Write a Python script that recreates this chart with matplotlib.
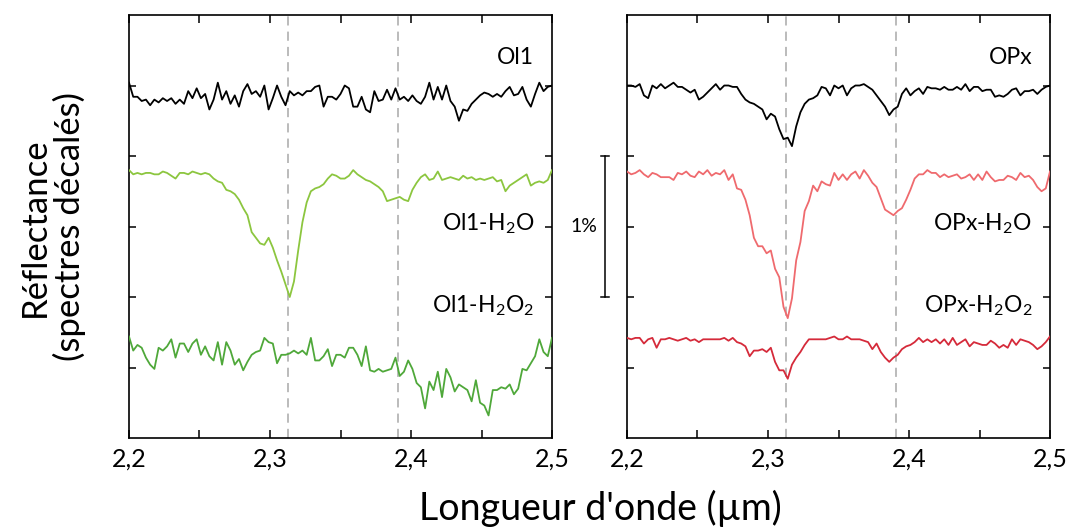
"""Offset reflectance spectra (Ol1 / OPx) around 2.2-2.5 um, two panels."""
import numpy as np
import matplotlib
matplotlib.use("Agg")
import matplotlib.pyplot as plt
from matplotlib.transforms import blended_transform_factory

OUT = "out.png"

# wavelength grid (um), 101 samples between 2.2 and 2.5
WL = np.linspace(2.2, 2.5, 101)

# offset reflectance (%)
OL1 = [2.52, 2.42, 2.42, 2.39, 2.40, 2.36, 2.40, 2.38, 2.41, 2.39,
       2.41, 2.37, 2.40, 2.37, 2.46, 2.41, 2.48, 2.41, 2.44, 2.33,
       2.40, 2.52, 2.40, 2.46, 2.37, 2.43, 2.35, 2.46, 2.51, 2.44,
       2.46, 2.42, 2.50, 2.33, 2.41, 2.50, 2.42, 2.36, 2.46, 2.43,
       2.45, 2.43, 2.46, 2.46, 2.49, 2.50, 2.35, 2.42, 2.42, 2.40,
       2.44, 2.50, 2.48, 2.35, 2.35, 2.42, 2.33, 2.31, 2.46, 2.39,
       2.40, 2.47, 2.40, 2.48, 2.40, 2.42, 2.39, 2.43, 2.39, 2.37,
       2.42, 2.52, 2.40, 2.49, 2.40, 2.50, 2.39, 2.35, 2.25, 2.33,
       2.32, 2.37, 2.40, 2.43, 2.45, 2.44, 2.42, 2.44, 2.42, 2.46,
       2.49, 2.43, 2.44, 2.49, 2.40, 2.35, 2.44, 2.52, 2.46, 2.49,
       2.50]
OL1_H2O = [1.90, 1.87, 1.88, 1.87, 1.88, 1.88, 1.87, 1.87, 1.89, 1.88,
           1.86, 1.84, 1.88, 1.88, 1.87, 1.89, 1.88, 1.87, 1.88, 1.87,
           1.84, 1.82, 1.81, 1.76, 1.75, 1.73, 1.69, 1.63, 1.58, 1.46,
           1.42, 1.38, 1.37, 1.42, 1.35, 1.26, 1.18, 1.09, 1.00, 1.11,
           1.33, 1.53, 1.67, 1.75, 1.77, 1.78, 1.80, 1.84, 1.87, 1.86,
           1.84, 1.84, 1.86, 1.90, 1.87, 1.85, 1.83, 1.82, 1.80, 1.78,
           1.75, 1.68, 1.69, 1.70, 1.71, 1.69, 1.68, 1.76, 1.81, 1.85,
           1.87, 1.83, 1.84, 1.89, 1.83, 1.84, 1.85, 1.84, 1.83, 1.86,
           1.84, 1.85, 1.83, 1.84, 1.83, 1.84, 1.85, 1.82, 1.83, 1.75,
           1.79, 1.81, 1.83, 1.85, 1.87, 1.79, 1.81, 1.82, 1.81, 1.83,
           1.90]
OL1_H2O2 = [0.72, 0.62, 0.66, 0.64, 0.57, 0.52, 0.49, 0.64, 0.62, 0.65,
            0.70, 0.57, 0.67, 0.67, 0.61, 0.67, 0.70, 0.59, 0.65, 0.58,
            0.55, 0.68, 0.52, 0.68, 0.62, 0.52, 0.56, 0.48, 0.54, 0.59,
            0.61, 0.62, 0.71, 0.68, 0.67, 0.53, 0.59, 0.59, 0.60, 0.62,
            0.60, 0.62, 0.59, 0.71, 0.55, 0.55, 0.58, 0.63, 0.51, 0.59,
            0.59, 0.57, 0.64, 0.64, 0.59, 0.51, 0.65, 0.48, 0.47, 0.49,
            0.47, 0.48, 0.49, 0.57, 0.44, 0.47, 0.55, 0.49, 0.39, 0.36,
            0.21, 0.40, 0.34, 0.47, 0.29, 0.49, 0.43, 0.33, 0.38, 0.36,
            0.34, 0.26, 0.41, 0.25, 0.23, 0.16, 0.34, 0.34, 0.36, 0.35,
            0.38, 0.31, 0.35, 0.49, 0.48, 0.53, 0.58, 0.70, 0.61, 0.58,
            0.71]
OPX = [2.50, 2.50, 2.49, 2.51, 2.43, 2.41, 2.50, 2.48, 2.51, 2.48,
       2.50, 2.52, 2.49, 2.49, 2.47, 2.45, 2.47, 2.40, 2.42, 2.45,
       2.48, 2.51, 2.47, 2.50, 2.50, 2.49, 2.49, 2.44, 2.40, 2.38,
       2.37, 2.35, 2.33, 2.26, 2.30, 2.28, 2.19, 2.12, 2.13, 2.07,
       2.21, 2.31, 2.37, 2.40, 2.41, 2.43, 2.49, 2.48, 2.43, 2.50,
       2.48, 2.50, 2.43, 2.48, 2.50, 2.50, 2.51, 2.49, 2.47, 2.43,
       2.39, 2.35, 2.29, 2.33, 2.35, 2.44, 2.48, 2.43, 2.46, 2.48,
       2.44, 2.49, 2.48, 2.48, 2.47, 2.49, 2.47, 2.47, 2.49, 2.47,
       2.51, 2.46, 2.49, 2.49, 2.46, 2.47, 2.47, 2.42, 2.43, 2.42,
       2.44, 2.47, 2.48, 2.43, 2.46, 2.46, 2.47, 2.44, 2.47, 2.49,
       2.50]
OPX_H2O = [1.89, 1.87, 1.88, 1.90, 1.87, 1.85, 1.88, 1.87, 1.85, 1.85,
           1.85, 1.83, 1.88, 1.87, 1.89, 1.86, 1.85, 1.89, 1.87, 1.90,
           1.86, 1.88, 1.87, 1.90, 1.83, 1.87, 1.77, 1.76, 1.69, 1.58,
           1.42, 1.36, 1.36, 1.31, 1.33, 1.20, 1.14, 0.93, 0.85, 0.99,
           1.26, 1.39, 1.61, 1.68, 1.79, 1.75, 1.82, 1.80, 1.79, 1.88,
           1.83, 1.87, 1.83, 1.87, 1.89, 1.84, 1.90, 1.86, 1.81, 1.78,
           1.70, 1.62, 1.60, 1.58, 1.61, 1.63, 1.69, 1.76, 1.84, 1.87,
           1.87, 1.90, 1.88, 1.88, 1.85, 1.87, 1.85, 1.86, 1.87, 1.84,
           1.85, 1.87, 1.83, 1.87, 1.83, 1.89, 1.85, 1.82, 1.83, 1.83,
           1.86, 1.85, 1.83, 1.88, 1.85, 1.86, 1.83, 1.78, 1.75, 1.77,
           1.89]
OPX_H2O2 = [0.71, 0.70, 0.71, 0.71, 0.67, 0.70, 0.71, 0.64, 0.70, 0.70,
            0.71, 0.70, 0.69, 0.70, 0.71, 0.69, 0.70, 0.68, 0.70, 0.70,
            0.70, 0.70, 0.70, 0.71, 0.69, 0.71, 0.68, 0.67, 0.65, 0.58,
            0.62, 0.62, 0.63, 0.61, 0.64, 0.54, 0.48, 0.48, 0.42, 0.52,
            0.57, 0.61, 0.66, 0.70, 0.70, 0.70, 0.70, 0.70, 0.71, 0.72,
            0.70, 0.70, 0.72, 0.70, 0.70, 0.70, 0.69, 0.68, 0.63, 0.67,
            0.61, 0.57, 0.54, 0.57, 0.59, 0.63, 0.65, 0.66, 0.68, 0.71,
            0.68, 0.70, 0.68, 0.70, 0.67, 0.70, 0.66, 0.71, 0.66, 0.68,
            0.70, 0.65, 0.68, 0.67, 0.66, 0.66, 0.69, 0.67, 0.64, 0.66,
            0.64, 0.70, 0.66, 0.70, 0.69, 0.68, 0.66, 0.63, 0.65, 0.68,
            0.72]

BANDS = [2.313, 2.391]          # dashed reference bands
LABEL_Y = [2.70, 1.52, 0.94]    # label heights for the three spectra

SUB2 = r"$_{\mathregular{2}}$"
PANELS = [
    dict(series=[OL1, OL1_H2O, OL1_H2O2],
         colors=["black", "#8cc63f", "#4fa83a"],
         labels=["Ol1", "Ol1-H" + SUB2 + "O", "Ol1-H" + SUB2 + "O" + SUB2],
         left=129),
    dict(series=[OPX, OPX_H2O, OPX_H2O2],
         colors=["black", "#ef6a6e", "#d52a3a"],
         labels=["OPx", "OPx-H" + SUB2 + "O", "OPx-H" + SUB2 + "O" + SUB2],
         left=627),
]

plt.rcParams.update({
    "font.family": "Lato",
    "axes.linewidth": 1.2,
})

W, H = 1070, 529
fig = plt.figure(figsize=(W / 100, H / 100), dpi=100)

axes = []
for p in PANELS:
    ax = fig.add_axes([p["left"] / W, (H - 438) / H, 423 / W, 423 / H])
    axes.append(ax)
    for wl in BANDS:
        ax.axvline(wl, color="#a8a8a8", lw=1.1, dashes=(6, 4), zorder=1)
    for ys, c in zip(p["series"], p["colors"]):
        ax.plot(WL, ys, color=c, lw=1.3, zorder=3)
    for lab, ly in zip(p["labels"], LABEL_Y):
        ax.text(0.958, ly, lab, transform=blended_transform_factory(ax.transAxes, ax.transData),
                ha="right", va="center", fontsize=16.5)

    ax.set_xlim(2.2, 2.5)
    ax.set_ylim(0, 3)
    ax.set_xticks([2.2, 2.3, 2.4, 2.5])
    ax.set_xticklabels(["2,2", "2,3", "2,4", "2,5"])
    ax.set_xticks([2.25, 2.35, 2.45], minor=True)
    ax.set_yticks([0.5, 1.0, 1.5, 2.0, 2.5])
    ax.set_yticklabels([])
    ax.tick_params(axis="x", which="both", direction="in", top=True, length=6,
                   width=1.1, labelsize=18, pad=7)
    ax.tick_params(axis="y", which="both", direction="in", right=True, length=5,
                   width=1.1)

# 1 % scale bar left of the OPx panel
axr = axes[1]
tr = blended_transform_factory(axr.transAxes, axr.transData)
bx, cap = -0.052, 0.01
axr.plot([bx, bx], [1.0, 2.0], color="black", lw=1.1, transform=tr, clip_on=False)
for yb in (1.0, 2.0):
    axr.plot([bx - cap, bx + cap], [yb, yb], color="black", lw=1.1, transform=tr, clip_on=False)
axr.text(-0.102, 1.5, "1%", transform=tr, ha="center", va="center", fontsize=14)

fig.text(0.049, 0.571, "Réflectance\n(spectres décalés)", rotation=90,
         ha="center", va="center", multialignment="center", fontsize=25, linespacing=1.05)
fig.text(0.561, 1 - 520 / H, "Longueur d'onde (µm)", ha="center", va="baseline", fontsize=27)

fig.savefig(OUT, dpi=100)
